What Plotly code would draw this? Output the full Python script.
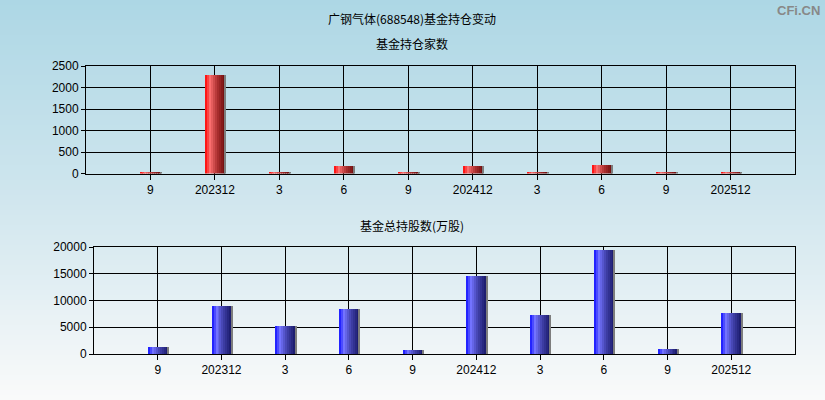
import plotly.graph_objects as go

# ---- data ----
tick_labels = ["9", "202312", "3", "6", "9", "202412", "3", "6", "9", "202512"]
fund_count = [25, 2300, 25, 170, 25, 170, 20, 200, 20, 20]
fund_shares = [1300, 9000, 5250, 8450, 750, 14600, 7300, 19500, 950, 7700]

main_title = "广钢气体(688548)基金持仓变动"
top_title = "基金持仓家数"
bottom_title = "基金总持股数(万股)"

x_pos = list(range(len(tick_labels)))

W = 0.31
N = 10


def grad(stops, t):
    for (t0, c0), (t1, c1) in zip(stops, stops[1:]):
        if t0 <= t <= t1:
            f = (t - t0) / (t1 - t0) if t1 > t0 else 0
            return "rgb(%d,%d,%d)" % tuple(round(a + (b - a) * f) for a, b in zip(c0, c1))
    return "rgb(%d,%d,%d)" % stops[-1][1]


red_stops = [(0.0, (255, 0, 0)), (0.25, (250, 110, 110)), (0.6, (175, 50, 50)), (1.0, (110, 12, 12))]
blue_stops = [(0.0, (15, 15, 255)), (0.25, (115, 115, 255)), (0.6, (65, 65, 170)), (1.0, (25, 25, 105))]

fig = go.Figure()


def add_bars(values, stops, xa, ya):
    for i in range(N):
        t = (i + 0.5) / N
        fig.add_trace(go.Bar(
            x=x_pos, y=values, xaxis=xa, yaxis=ya,
            width=W / N + 0.004, offset=-W / 2 + i * W / N,
            marker=dict(color=grad(stops, t), line=dict(width=0)),
            showlegend=False, hoverinfo="skip"))
    fig.add_trace(go.Bar(
        x=x_pos, y=values, xaxis=xa, yaxis=ya,
        width=0.018, offset=W / 2,
        marker=dict(color="rgb(125,125,125)", line=dict(width=0)),
        showlegend=False, hoverinfo="skip"))


add_bars(fund_count, red_stops, "x", "y")
add_bars(fund_shares, blue_stops, "x2", "y2")

# background gradient stripes
shapes = []
S = 80
top_c = (173, 215, 229)
mid_c = (208, 230, 238)
bot_c = (250, 250, 250)
for k in range(S):
    t = (k + 0.5) / S  # 0 at top
    if t < 0.5:
        f = t / 0.5
        c = tuple(round(a + (b - a) * f) for a, b in zip(top_c, mid_c))
    else:
        f = (t - 0.5) / 0.5
        c = tuple(round(a + (b - a) * f) for a, b in zip(mid_c, bot_c))
    shapes.append(dict(type="rect", xref="paper", yref="paper",
                       x0=0, x1=1, y0=1 - (k + 1) / S - 0.001, y1=1 - k / S,
                       fillcolor="rgb(%d,%d,%d)" % c, line=dict(width=0), layer="below"))

font_tick = dict(family="Liberation Sans, Arial, sans-serif", size=12, color="#000")

xcommon = dict(range=[-1, 10], tickmode="array", tickvals=x_pos, ticktext=tick_labels,
               showgrid=True, gridcolor="#000", gridwidth=1,
               showline=True, linecolor="#000", linewidth=1, mirror=True,
               ticks="outside", ticklen=5, tickcolor="#000", tickfont=font_tick,
               zeroline=False, fixedrange=True, automargin=False)
ycommon = dict(showgrid=True, gridcolor="#000", gridwidth=1,
               showline=True, linecolor="#000", linewidth=1, mirror=True,
               ticks="outside", ticklen=4, tickcolor="#000", tickfont=font_tick,
               tickformat="d", zeroline=False, fixedrange=True, automargin=False)

cjk = dict(family="Noto Sans CJK SC", size=12, color="#000")

fig.update_layout(
    template="none",
    width=825, height=400,
    margin=dict(l=0, r=0, t=0, b=0, pad=0, autoexpand=False),
    paper_bgcolor="rgb(230,240,244)",
    plot_bgcolor="rgba(0,0,0,0)",
    barmode="overlay",
    bargap=0,
    showlegend=False,
    shapes=shapes,
    xaxis=dict(domain=[86 / 825, 795 / 825], anchor="y", **xcommon),
    yaxis=dict(domain=[(400 - 173.5) / 400, (400 - 66) / 400], anchor="x",
               range=[0, 2500], dtick=500, **ycommon),
    xaxis2=dict(domain=[94 / 825, 795 / 825], anchor="y2", **xcommon),
    yaxis2=dict(domain=[(400 - 354) / 400, (400 - 247) / 400], anchor="x2",
                range=[0, 20000], dtick=5000, **ycommon),
    annotations=[
        dict(text=main_title, xref="paper", yref="paper", x=412 / 825, y=1 - 18 / 400,
             xanchor="center", yanchor="middle", showarrow=False, font=cjk),
        dict(text=top_title, xref="paper", yref="paper", x=412 / 825, y=1 - 43 / 400,
             xanchor="center", yanchor="middle", showarrow=False, font=cjk),
        dict(text=bottom_title, xref="paper", yref="paper", x=412 / 825, y=1 - 225 / 400,
             xanchor="center", yanchor="middle", showarrow=False, font=cjk),
        dict(text="<b>CFi.CN</b>", xref="paper", yref="paper", x=1 - 3 / 825, y=1 - 10 / 400,
             xanchor="right", yanchor="middle", showarrow=False,
             font=dict(family="Liberation Sans, Arial", size=13, color="#888")),
    ],
    hovermode=False,
)

fig.write_html("out.html", config={"displayModeBar": False},
               post_script="document.body.style.margin='0';document.body.style.overflow='hidden';")
